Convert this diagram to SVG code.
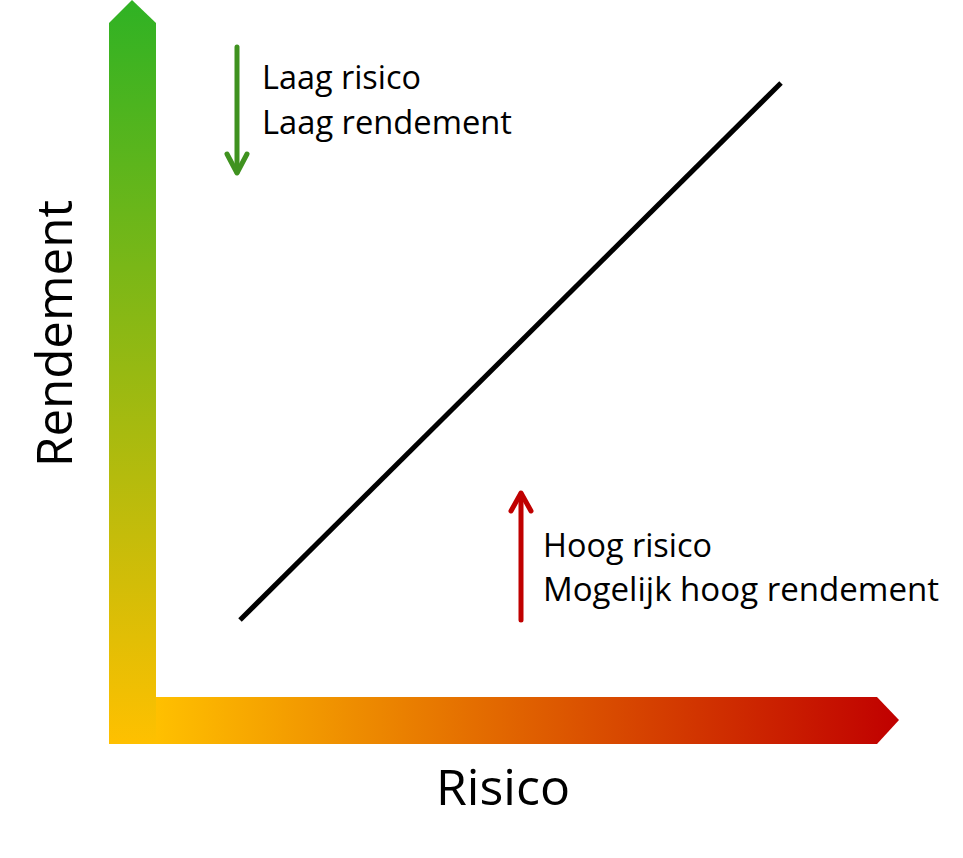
<svg xmlns="http://www.w3.org/2000/svg" width="963" height="858" viewBox="0 0 963 858">
<defs>
<linearGradient id="gv" gradientUnits="userSpaceOnUse" x1="0" y1="0" x2="0" y2="744">
<stop offset="0" stop-color="#2fb224"/>
<stop offset="1" stop-color="#ffc000"/>
</linearGradient>
<linearGradient id="gh" gradientUnits="userSpaceOnUse" x1="156" y1="0" x2="899" y2="0">
<stop offset="0" stop-color="#ffc000"/>
<stop offset="1" stop-color="#c00000"/>
</linearGradient>
<style>
.t{font-family:"Open Sans","Liberation Sans",sans-serif;fill:#000}
.s{font-size:32px}
.b{font-size:49px}
</style>
</defs>
<g id="axis-x">
<polygon points="150,697 877,697 899,720 877,744 150,744" fill="url(#gh)"/>
</g>
<g id="axis-y">
<polygon points="109,23 132,0 156,23 156,744 109,744" fill="url(#gv)"/>
</g>
<g id="connectors">
<line x1="240" y1="620" x2="781" y2="83" stroke="#000" stroke-width="5"/>
<g id="arrow-down" stroke="#3f921f" stroke-width="5" fill="none" stroke-linecap="round" stroke-linejoin="round">
<line x1="237" y1="47" x2="237" y2="172"/>
<polyline points="227,154 237,173 247,154"/>
</g>
<g id="arrow-up" stroke="#c00000" stroke-width="5" fill="none" stroke-linecap="round" stroke-linejoin="round">
<line x1="521" y1="620" x2="521" y2="494"/>
<polyline points="511,511 521,493 531,511"/>
</g>
</g>
<g id="label-top">
<text class="t s" x="262" y="89" textLength="159" lengthAdjust="spacingAndGlyphs">Laag risico</text>
<text class="t s" x="262" y="134" textLength="250" lengthAdjust="spacingAndGlyphs">Laag rendement</text>
</g>
<g id="label-bottom">
<text class="t s" x="543" y="557" textLength="169" lengthAdjust="spacingAndGlyphs">Hoog risico</text>
<text class="t s" x="543" y="601" textLength="396" lengthAdjust="spacingAndGlyphs">Mogelijk hoog rendement</text>
</g>
<g id="label-risico">
<text class="t b" x="436" y="805" textLength="134" lengthAdjust="spacingAndGlyphs">Risico</text>
</g>
<g id="label-rendement">
<text class="t b" transform="translate(72,467) rotate(-90)" x="0" y="0" textLength="267" lengthAdjust="spacingAndGlyphs">Rendement</text>
</g>
</svg>
